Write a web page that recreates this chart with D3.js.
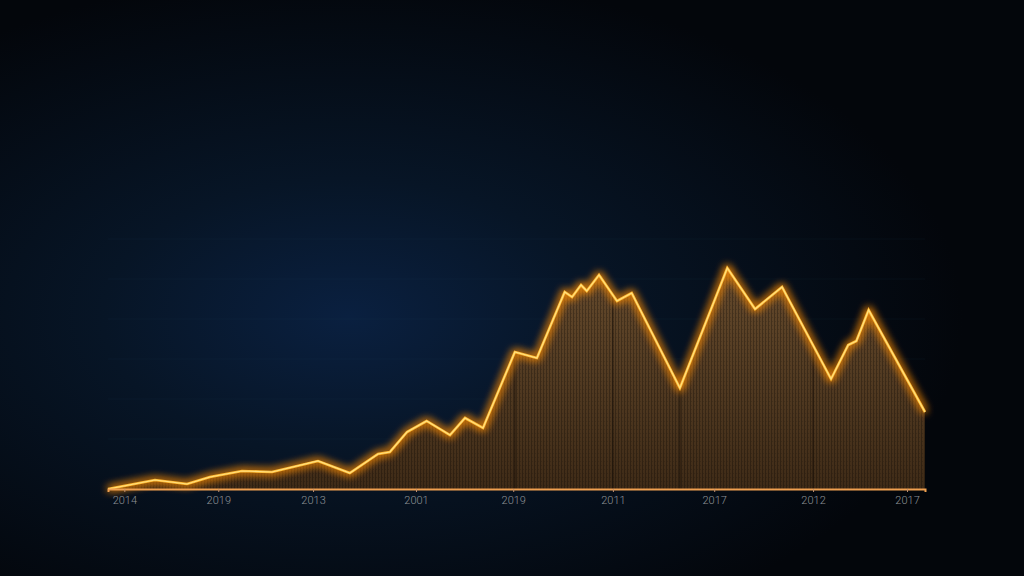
<!DOCTYPE html>
<html>
<head>
<meta charset="utf-8">
<script src="https://cdn.jsdelivr.net/npm/d3@7"></script>
<style>
  html, body { margin: 0; padding: 0; background: #04070c; }
  svg { display: block; }
</style>
</head>
<body>
<svg id="drawing_region"></svg>
<script>
// position along the axis (0..100) and value (0..100)
const positions = [0, 5.75, 9.67, 12.48, 16.4, 20.07, 25.7, 29.6, 33.05, 34.5, 36.6, 39.0, 41.86, 43.7, 45.9,
    49.8, 52.5, 55.9, 56.8, 57.9, 58.6, 60.1, 62.3, 64.1, 70.0, 75.8, 79.2, 82.5, 88.5, 90.6, 91.6, 93.1, 100];
const values = [0, 3.6, 2, 4.8, 7.2, 6.8, 11.2, 6.4, 14, 14.8, 22.8, 27.2, 21.6, 28.4, 24.4,
    54.8, 52.4, 78.8, 76.8, 81.6, 79.2, 85.6, 75.2, 78.4, 40.4, 88.4, 72, 80.8, 44, 57.6, 59.2, 71.6, 30.8];
const tickPositions = [2, 13.5, 25.1, 37.7, 49.6, 61.8, 74.2, 86.3, 97.8];
const tickLabels = ["2014", "2019", "2013", "2001", "2019", "2011", "2017", "2012", "2017"];
const dividerPositions = [49.8, 61.8, 70.0, 86.3];
const gridValues = [20, 36, 52, 68, 84, 100];

const config = {
    width: 1024,
    height: 576,
    margin: {top: 239, right: 99, bottom: 87, left: 108}
};

const data = positions.map((p, i) => ({ x: p, y: values[i] }));

const svg = d3.select('#drawing_region')
    .attr('width', config.width)
    .attr('height', config.height);

const defs = svg.append('defs');

// background glow
const bg = defs.append('radialGradient')
    .attr('id', 'bg')
    .attr('cx', 0.34).attr('cy', 0.55).attr('r', 0.6);
bg.append('stop').attr('offset', '0%').attr('stop-color', '#0a2040');
bg.append('stop').attr('offset', '40%').attr('stop-color', '#071526');
bg.append('stop').attr('offset', '100%').attr('stop-color', '#03060b');

svg.append('rect')
    .attr('width', config.width)
    .attr('height', config.height)
    .attr('fill', 'url(#bg)');

// fill gradient + striping
const fillGrad = defs.append('linearGradient')
    .attr('id', 'fillGrad')
    .attr('x1', 0).attr('y1', 0).attr('x2', 0).attr('y2', 1);
fillGrad.append('stop').attr('offset', '0%').attr('stop-color', '#654a2c');
fillGrad.append('stop').attr('offset', '100%').attr('stop-color', '#3f2b17');

const stripes = defs.append('pattern')
    .attr('id', 'stripes')
    .attr('width', 3).attr('height', 4)
    .attr('patternUnits', 'userSpaceOnUse');
stripes.append('rect').attr('width', 1).attr('height', 4).attr('fill', '#000').attr('opacity', 0.28);
stripes.append('rect').attr('y', 2).attr('x', 1).attr('width', 1).attr('height', 1).attr('fill', '#000').attr('opacity', 0.15);

const glow = defs.append('filter')
    .attr('id', 'glow')
    .attr('x', '-10%').attr('y', '-30%').attr('width', '120%').attr('height', '160%');
glow.append('feGaussianBlur').attr('stdDeviation', 4.5).attr('result', 'blur');
const merge = glow.append('feMerge');
merge.append('feMergeNode').attr('in', 'blur');
merge.append('feMergeNode').attr('in', 'blur');

const innerW = config.width - config.margin.left - config.margin.right;
const innerH = config.height - config.margin.top - config.margin.bottom;

const chart = svg.append('g')
    .attr('transform', `translate(${config.margin.left}, ${config.margin.top})`);

const xscale = d3.scaleLinear().domain([0, 100]).range([0, innerW]);
const yscale = d3.scaleLinear().domain([0, 100]).range([innerH, 0]);

// faint gridlines
chart.selectAll('.grid')
    .data(gridValues)
    .enter()
    .append('line')
    .attr('x1', 0).attr('x2', innerW)
    .attr('y1', d => yscale(d)).attr('y2', d => yscale(d))
    .attr('stroke', '#2a4a70')
    .attr('stroke-opacity', 0.1)
    .attr('stroke-width', 1);

const area = d3.area()
    .x(d => xscale(d.x))
    .y0(yscale(0))
    .y1(d => yscale(d.y));

const line = d3.line()
    .x(d => xscale(d.x))
    .y(d => yscale(d.y));

defs.append('clipPath').attr('id', 'areaClip')
    .append('path').attr('d', area(data));

chart.append('path')
    .attr('d', area(data))
    .attr('fill', 'url(#fillGrad)');

chart.append('path')
    .attr('d', area(data))
    .attr('fill', 'url(#stripes)');

chart.append('g')
    .attr('clip-path', 'url(#areaClip)')
    .selectAll('line')
    .data(dividerPositions)
    .enter()
    .append('line')
    .attr('x1', d => xscale(d)).attr('x2', d => xscale(d))
    .attr('y1', 0).attr('y2', innerH)
    .attr('stroke', '#150e07')
    .attr('stroke-opacity', 0.75)
    .attr('stroke-width', 1);

// glowing line
chart.append('path')
    .attr('d', line(data))
    .attr('fill', 'none')
    .attr('stroke', '#ff8c10')
    .attr('stroke-width', 3.5)
    .attr('stroke-linejoin', 'miter')
    .attr('filter', 'url(#glow)');

chart.append('path')
    .attr('d', line(data))
    .attr('fill', 'none')
    .attr('stroke', '#ffb830')
    .attr('stroke-width', 2.6)
    .attr('stroke-linejoin', 'miter');

chart.append('path')
    .attr('d', line(data))
    .attr('fill', 'none')
    .attr('stroke', '#ffe080')
    .attr('stroke-width', 1.2)
    .attr('stroke-linejoin', 'miter');

// axis
const xaxis = d3.axisBottom(xscale)
    .tickValues(tickPositions)
    .tickFormat((d, i) => tickLabels[i])
    .tickSize(3)
    .tickPadding(4);

const axisG = chart.append('g')
    .attr('transform', `translate(0, ${innerH})`)
    .call(xaxis);

axisG.select('.domain')
    .attr('stroke', '#f0a050')
    .attr('stroke-width', 2);
axisG.selectAll('.tick line')
    .attr('stroke', '#c09070');
axisG.selectAll('.tick text')
    .attr('fill', '#8e9296')
    .attr('font-family', 'Roboto, sans-serif')
    .attr('font-weight', 300)
    .attr('font-size', '11px');
</script>
</body>
</html>
